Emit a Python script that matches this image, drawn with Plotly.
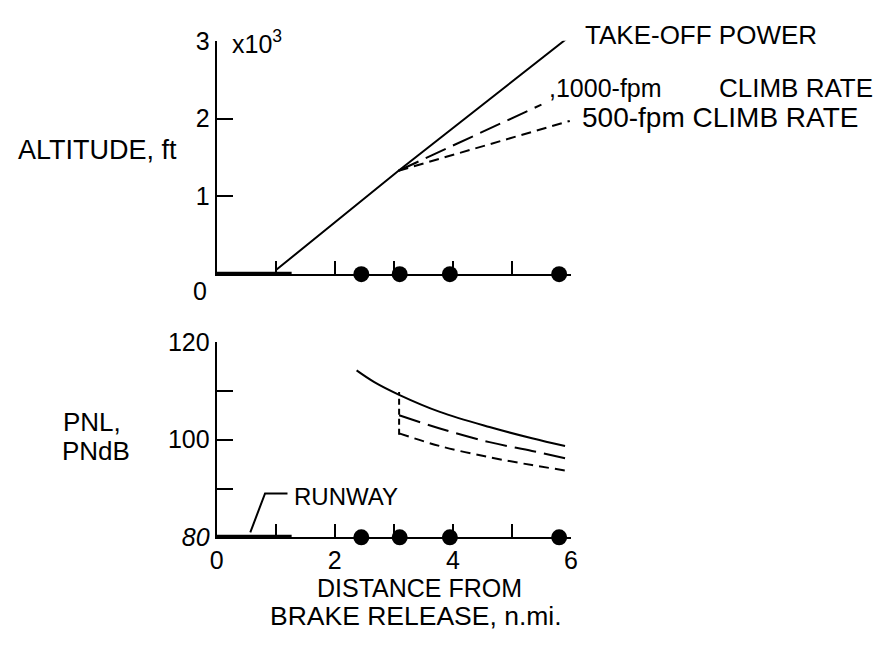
import plotly.graph_objects as go

W, H = 887, 646

# ---------------- data ----------------
# Altitude profile (x in n.mi., altitude in thousands of ft)
takeoff_x = [1.0, 3.08, 6.0]
takeoff_alt = [0.05, 1.33, 3.07]
climb1000_x = [3.08, 5.5]
climb1000_alt = [1.33, 2.18]
climb500_x = [3.08, 5.98]
climb500_alt = [1.33, 1.97]

# Runway segment
runway_x = [0.0, 1.27]

# Measuring stations (dots)
station_x = [2.45, 3.1, 3.95, 5.8]

# PNL curves (PNdB)
pnl_takeoff_x = [2.37, 2.67, 3.09, 3.78, 4.62, 5.34, 5.9]
pnl_takeoff = [114.2, 111.8, 109.2, 105.7, 102.6, 100.3, 98.7]
pnl_1000_x = [3.09, 3.78, 4.62, 5.34, 5.9]
pnl_1000 = [105.0, 102.3, 99.5, 97.7, 96.2]
pnl_500_x = [3.09, 3.78, 4.62, 5.34, 5.9]
pnl_500 = [101.3, 98.7, 96.4, 94.8, 93.7]
cutback_x = [3.09, 3.09]
cutback_pnl = [101.0, 109.8]

# Runway label leader line (data coords of bottom panel)
leader_x = [1.2, 0.82, 0.57]
leader_y = [89.0, 89.0, 81.0]

alt_ticks = [1, 2, 3]
alt_ticktext = ["1", "2", "3"]
pnl_ticks = [80, 100, 120]
pnl_ticktext = ["<i>80</i>", "100", "120"]
pnl_minor = [90, 110]
dist_ticks = [0, 2, 4, 6]
dist_ticktext = ["0", "2", "4", "6"]
dist_minor = [1, 3, 5]
dist_all = [1, 2, 3, 4, 5, 6]

FONT = "Liberation Sans, Arial, sans-serif"
LONG = "22px,8px"
SHORT = "10px,6px"


def px(x):
    return x / W


def py(y):
    return 1 - y / H


fig = go.Figure()

line = dict(color="black", width=2)

# ---- top panel ----
fig.add_trace(go.Scatter(x=takeoff_x, y=takeoff_alt, mode="lines", line=line,
                         xaxis="x", yaxis="y", cliponaxis=False))
fig.add_trace(go.Scatter(x=climb1000_x, y=climb1000_alt, mode="lines",
                         line=dict(color="black", width=2, dash=LONG),
                         xaxis="x", yaxis="y", cliponaxis=False))
fig.add_trace(go.Scatter(x=climb500_x, y=climb500_alt, mode="lines",
                         line=dict(color="black", width=2, dash=SHORT),
                         xaxis="x", yaxis="y", cliponaxis=False))
fig.add_trace(go.Scatter(x=runway_x, y=[0, 0], mode="lines",
                         line=dict(color="black", width=5),
                         xaxis="x", yaxis="y", cliponaxis=False))
fig.add_trace(go.Scatter(x=station_x, y=[0] * len(station_x), mode="markers",
                         marker=dict(color="black", size=16),
                         xaxis="x", yaxis="y", cliponaxis=False))

# ---- bottom panel ----
fig.add_trace(go.Scatter(x=pnl_takeoff_x, y=pnl_takeoff, mode="lines",
                         line=dict(color="black", width=2, shape="spline"),
                         xaxis="x2", yaxis="y2", cliponaxis=False))
fig.add_trace(go.Scatter(x=pnl_1000_x, y=pnl_1000, mode="lines",
                         line=dict(color="black", width=2, dash=LONG, shape="spline"),
                         xaxis="x2", yaxis="y2", cliponaxis=False))
fig.add_trace(go.Scatter(x=pnl_500_x, y=pnl_500, mode="lines",
                         line=dict(color="black", width=2, dash=SHORT, shape="spline"),
                         xaxis="x2", yaxis="y2", cliponaxis=False))
fig.add_trace(go.Scatter(x=cutback_x, y=cutback_pnl, mode="lines",
                         line=dict(color="black", width=2, dash="6px,4px"),
                         xaxis="x2", yaxis="y2", cliponaxis=False))
fig.add_trace(go.Scatter(x=runway_x, y=[80, 80], mode="lines",
                         line=dict(color="black", width=5),
                         xaxis="x2", yaxis="y2", cliponaxis=False))
fig.add_trace(go.Scatter(x=leader_x, y=leader_y, mode="lines",
                         line=dict(color="black", width=2),
                         xaxis="x2", yaxis="y2", cliponaxis=False))
fig.add_trace(go.Scatter(x=station_x, y=[80] * len(station_x), mode="markers",
                         marker=dict(color="black", size=16),
                         xaxis="x2", yaxis="y2", cliponaxis=False))

xdom = [px(213), px(573)]
common_x = dict(domain=xdom, range=[0, 6], showline=True, linecolor="black",
                linewidth=2, ticks="inside", ticklen=13, tickwidth=2,
                tickcolor="black", showgrid=False, zeroline=False,
                fixedrange=True)
common_y = dict(showline=True, linecolor="black", linewidth=2, ticks="inside",
                ticklen=16, tickwidth=2, tickcolor="black", showgrid=False,
                zeroline=False, tickfont=dict(family=FONT, size=25, color="black"))

fig.update_layout(
    width=W, height=H,
    margin=dict(l=0, r=0, t=0, b=0),
    paper_bgcolor="white", plot_bgcolor="white",
    showlegend=False,
    font=dict(family=FONT, color="black", size=24),
    xaxis=dict(common_x, anchor="y", tickvals=dist_all, showticklabels=False),
    yaxis=dict(common_y, anchor="x", domain=[py(272), py(28)], range=[0, 3],
               tickvals=alt_ticks, ticktext=alt_ticktext),
    xaxis2=dict(common_x, anchor="y2", tickvals=dist_ticks, ticktext=dist_ticktext,
                tickfont=dict(family=FONT, size=25, color="black"),
                ticklabelstandoff=0,
                minor=dict(tickvals=dist_minor, ticks="inside", ticklen=13,
                           tickwidth=2, tickcolor="black", showgrid=False)),
    yaxis2=dict(common_y, anchor="x2", domain=[py(547), py(343)], range=[80, 120],
                tickvals=pnl_ticks, ticktext=pnl_ticktext,
                minor=dict(tickvals=pnl_minor, ticks="inside", ticklen=16,
                           tickwidth=2, tickcolor="black", showgrid=False)),
)

annots = [
    ("TAKE-OFF POWER", 585, 22, "left", 26),
    (",1000-fpm", 549, 77, "left", 25),
    ("CLIMB RATE", 721, 77, "left", 26),
    ("500-fpm CLIMB RATE", 582, 108, "left", 28),
    ("ALTITUDE, ft", 9, 142, "left", 27),
    ("x10<sup>3</sup>", 227, 29, "left", 25),
    ("0", 196, 290, "center", 25),
    ("PNL,", 55, 427, "left", 26),
    ("PNdB", 54, 457, "left", 26),
    ("RUNWAY", 290, 504, "left", 24),
    ("DISTANCE FROM", 419, 600, "center", 25),
    ("BRAKE RELEASE, n.mi.", 416, 629, "center", 26.5),
]
for text, x, y, anchor, size in annots:
    fig.add_annotation(text=text, x=px(x), y=py(y), xref="paper", yref="paper",
                       xanchor=anchor, yanchor="middle", showarrow=False,
                       font=dict(family=FONT, size=size, color="black"))

fig.write_html("out.html")
